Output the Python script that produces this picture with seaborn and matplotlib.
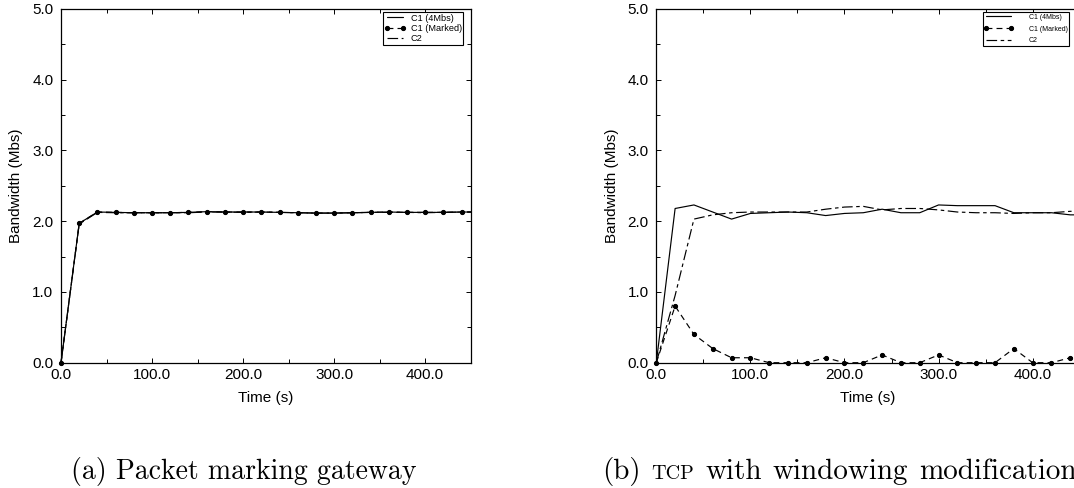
import matplotlib
matplotlib.use("Agg")
import matplotlib.pyplot as plt
import seaborn as sns
from matplotlib.ticker import MultipleLocator, FormatStrFormatter
from matplotlib.transforms import Bbox, TransformedBbox

# Sample times (s); the last sample lies just past the plotted range so the
# traces run to the right-hand frame.
time_s = [0, 20, 40, 60, 80, 100, 120, 140, 160, 180, 200, 220,
          240, 260, 280, 300, 320, 340, 360, 380, 400, 420, 440, 460]

# (a) packet marking gateway
gw_c1_total = [0.0, 1.97, 2.13, 2.125, 2.12, 2.12, 2.12, 2.125, 2.135, 2.13, 2.13, 2.13,
               2.125, 2.12, 2.115, 2.115, 2.12, 2.125, 2.13, 2.125, 2.125, 2.125, 2.13, 2.13]
gw_c1_marked = [0.0, 1.97, 2.13, 2.125, 2.12, 2.12, 2.12, 2.125, 2.135, 2.13, 2.13, 2.13,
                2.125, 2.12, 2.115, 2.115, 2.12, 2.125, 2.13, 2.125, 2.125, 2.125, 2.13, 2.13]
gw_c2 = [0.0, 1.96, 2.125, 2.12, 2.12, 2.12, 2.12, 2.12, 2.13, 2.13, 2.125, 2.13,
         2.125, 2.12, 2.115, 2.115, 2.12, 2.125, 2.125, 2.125, 2.12, 2.125, 2.13, 2.13]

# (b) TCP with windowing modification
win_c1_total = [0.0, 2.18, 2.23, 2.13, 2.03, 2.11, 2.12, 2.13, 2.12, 2.08, 2.11, 2.12,
                2.17, 2.12, 2.12, 2.23, 2.22, 2.22, 2.22, 2.12, 2.12, 2.12, 2.09, 2.09]
win_c1_marked = [0.0, 0.80, 0.40, 0.20, 0.07, 0.07, 0.0, 0.0, 0.0, 0.07, 0.0, 0.0,
                 0.11, 0.0, 0.0, 0.11, 0.0, 0.0, 0.0, 0.20, 0.0, 0.0, 0.07, 0.05]
win_c2 = [0.0, 0.95, 2.03, 2.09, 2.12, 2.13, 2.13, 2.13, 2.13, 2.17, 2.20, 2.21,
          2.16, 2.18, 2.18, 2.16, 2.13, 2.12, 2.12, 2.11, 2.12, 2.12, 2.14, 2.14]

series_labels = ["C1 (4Mbs)", "C1 (Marked)", "C2"]
caption_a = "(a) Packet marking gateway"
# caption (b) word by word with its font size ("TCP" as small capitals)
caption_b = [("(b)", 21), ("TCP", 14.5), ("with", 21), ("windowing", 21),
             ("modification", 21)]

sns.set_style("ticks")
plt.rcParams["font.family"] = ["Liberation Sans", "DejaVu Sans"]
plt.rcParams.update({
    "axes.edgecolor": "black",
    "axes.linewidth": 0.9,
    "text.color": "black",
    "axes.labelcolor": "black",
    "xtick.color": "black",
    "ytick.color": "black",
})

W, H = 1074.0, 488.0
fig = plt.figure(figsize=(W / 100, H / 100), dpi=100)

ax_bottom = 1 - 362.7 / H
ax_height = 353.7 / H
ax_a = fig.add_axes([61.0 / W, ax_bottom, 409.7 / W, ax_height])
ax_b = fig.add_axes([656.3 / W, ax_bottom, 423.4 / W, ax_height])

styles = [
    dict(linestyle="-", marker=None),
    dict(linestyle=(0, (5, 3.5)), marker="o", markersize=3.0,
         markerfacecolor="black", markeredgecolor="black"),
    dict(linestyle=(0, (9, 3, 3, 3)), marker=None),
]


def draw_panel(ax, series, legend_dx, legend_kw):
    for values, label, st in zip(series, series_labels, styles):
        sns.lineplot(x=time_s, y=values, ax=ax, color="black", linewidth=0.85,
                     label=label, **st)
    ax.set_xlim(0, 450)
    ax.set_ylim(0, 5)
    ax.xaxis.set_major_locator(MultipleLocator(100))
    ax.xaxis.set_minor_locator(MultipleLocator(50))
    ax.yaxis.set_major_locator(MultipleLocator(1))
    ax.yaxis.set_minor_locator(MultipleLocator(0.5))
    ax.xaxis.set_major_formatter(FormatStrFormatter("%.1f"))
    ax.yaxis.set_major_formatter(FormatStrFormatter("%.1f"))
    ax.tick_params(which="both", direction="in", top=True, right=True, width=0.7)
    ax.tick_params(which="major", length=3.4, labelsize=11)
    ax.tick_params(which="minor", length=2.9)
    ax.tick_params(axis="x", which="major", pad=3.5)
    ax.tick_params(axis="y", which="major", pad=5.5)
    ax.set_xlabel("Time (s)", fontsize=11, labelpad=6.5)
    ax.set_ylabel("Bandwidth (Mbs)", fontsize=11, labelpad=6.5)
    for sp in ax.spines.values():
        sp.set_visible(True)
    # let markers that sit on the frame show in full, but keep lines inside in x
    clip = TransformedBbox(Bbox([[-0.02, -0.03], [1.0, 1.03]]), ax.transAxes)
    for line in ax.get_lines():
        line.set_clip_box(clip)
    ax_w = ax.get_position().width * W
    ax_h = ax.get_position().height * H
    leg = ax.legend(loc="upper right",
                    bbox_to_anchor=(1 - legend_dx / ax_w, 1 - 3.3 / ax_h),
                    borderaxespad=0, frameon=True, fancybox=False,
                    edgecolor="black", framealpha=1, numpoints=2, **legend_kw)
    leg.get_frame().set_linewidth(0.8)


draw_panel(ax_a, [gw_c1_total, gw_c1_marked, gw_c2], 7.4,
           dict(fontsize=6.6, handlelength=2.35, handletextpad=0.55,
                labelspacing=0.15, borderpad=0.15))
draw_panel(ax_b, [win_c1_total, win_c1_marked, win_c2], 10.2,
           dict(fontsize=5, handlelength=4.2, handletextpad=2.3,
                labelspacing=0.7, borderpad=0.2))

# sub-figure captions in a roman serif
cap_y = 9.0 / H
fig.text(244.0 / W, cap_y, caption_a, family="cmr10", fontsize=20,
         ha="center", va="baseline")

renderer = fig.canvas.get_renderer()
x_px = 601.7
word_gap = 11.0
for part, size in caption_b:
    t = fig.text(x_px / W, cap_y, part, family="cmr10", fontsize=size,
                 ha="left", va="baseline")
    x_px += t.get_window_extent(renderer=renderer).width + word_gap

fig.savefig("out.png", dpi=100)
